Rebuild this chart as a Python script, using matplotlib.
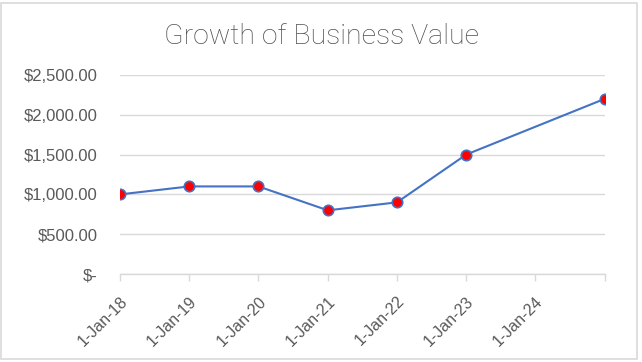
import matplotlib.pyplot as plt
from matplotlib.ticker import FuncFormatter
from matplotlib.patches import Rectangle
import numpy as np

# data
dates = np.array(['2018-01-01', '2019-01-01', '2020-01-01', '2021-01-01',
                  '2022-01-01', '2023-01-01', '2025-01-01'], dtype='datetime64[D]')
values = [1000, 1100, 1100, 800, 900, 1500, 2200]
tick_dates = np.array(['2018-01-01', '2019-01-01', '2020-01-01', '2021-01-01',
                       '2022-01-01', '2023-01-01', '2024-01-01', '2025-01-01'],
                      dtype='datetime64[D]')
tick_labels = ['1-Jan-18', '1-Jan-19', '1-Jan-20', '1-Jan-21',
               '1-Jan-22', '1-Jan-23', '1-Jan-24', '']

grey_txt = '#595959'
grid_c = '#d9d9d9'

fig = plt.figure(figsize=(6.42, 3.62), dpi=100)
ax = fig.add_axes([0.187, 0.243, 0.755, 0.55])

ax.plot(dates, values, color='#4472C4', linewidth=1.5, marker='o',
        markersize=7.5, markerfacecolor='red', markeredgecolor='#4472C4',
        markeredgewidth=1.2, zorder=3)

ax.set_xlim(tick_dates[0], tick_dates[-1])
ax.set_ylim(0, 2500)
ax.set_yticks([0, 500, 1000, 1500, 2000, 2500])


def money(v, pos):
    if v == 0:
        return '$-'
    return '${:,.2f}'.format(v)


ax.yaxis.set_major_formatter(FuncFormatter(money))
ax.set_xticks(tick_dates)
ax.set_xticklabels(tick_labels, rotation=45, ha='right', rotation_mode='anchor')

ax.grid(axis='y', color=grid_c, linewidth=1)
ax.set_axisbelow(True)
for s in ['top', 'right', 'left']:
    ax.spines[s].set_visible(False)
ax.spines['bottom'].set_color(grid_c)
ax.spines['bottom'].set_linewidth(1)

ax.tick_params(axis='y', length=0, pad=16, labelsize=12, labelcolor=grey_txt,
               labelfontfamily='Liberation Sans')
ax.tick_params(axis='x', length=5, color=grid_c, width=1, pad=9,
               labelsize=11.5, labelcolor=grey_txt,
               labelfontfamily='Liberation Sans')

fig.text(0.5, 0.9, 'Growth of Business Value', ha='center', va='center',
         fontsize=20.5, color='#505050', family='Roboto', fontweight='light')

# chart border
fig.patches.append(Rectangle((0.002, 0.008), 0.99, 0.985, transform=fig.transFigure,
                             fill=False, edgecolor=grid_c, linewidth=1.2))

fig.savefig('out.png', dpi=100)
